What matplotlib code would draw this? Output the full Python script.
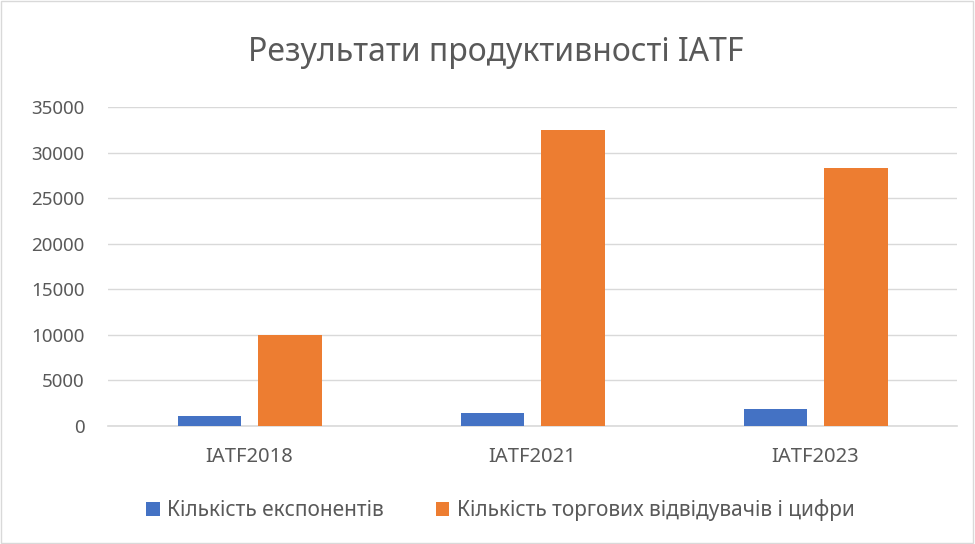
import matplotlib
matplotlib.use("Agg")
import matplotlib.pyplot as plt
import numpy as np
from matplotlib.patches import Rectangle

categories = ["IATF2018", "IATF2021", "IATF2023"]
exhibitors = [1050, 1450, 1900]
visitors = [10000, 32500, 28300]
series_names = ["Кількість експонентів", "Кількість торгових відвідувачів і цифри"]
yticks = [0, 5000, 10000, 15000, 20000, 25000, 30000, 35000]

plt.rcParams['font.family'] = ['Noto Sans', 'DejaVu Sans']

fig = plt.figure(figsize=(9.75, 5.44), dpi=100)
ax = fig.add_axes([0.1108, 0.2169, 0.8708, 0.5864])

x = np.arange(len(categories))
w = 0.223
off = 0.143
ax.bar(x - off, exhibitors, w, color="#4472c4", label=series_names[0], zorder=3)
ax.bar(x + off, visitors, w, color="#ed7d31", label=series_names[1], zorder=3)

ax.set_xlim(-0.5, 2.5)
ax.set_ylim(0, 35000)
ax.set_yticks(yticks)
ax.set_xticks(x)
ax.set_xticklabels(categories)
ax.grid(axis="y", color="#d9d9d9", linewidth=1, zorder=0)
for s in ["top", "right", "left"]:
    ax.spines[s].set_visible(False)
ax.spines["bottom"].set_color("#d9d9d9")
ax.spines["bottom"].set_linewidth(1.2)
ax.tick_params(length=0, labelsize=13.5, colors="#595959")
ax.tick_params(axis="x", pad=15, labelsize=14.5)
ax.tick_params(axis="y", pad=17)

fig.text(0.508, 0.903, "Результати продуктивності IATF", ha="center", va="center",
         fontsize=23, color="#595959")

fig.legend(loc="center", bbox_to_anchor=(0.513, 0.0625), ncol=2, frameon=False,
           fontsize=15, labelcolor="#595959", handlelength=0.65, handleheight=0.65,
           columnspacing=2.5, handletextpad=0.35)

fig.patches.append(Rectangle((0.001, 0.002), 0.997, 0.996, transform=fig.transFigure,
                             fill=False, edgecolor="#d9d9d9", linewidth=1))

fig.savefig("out.png", dpi=100)
